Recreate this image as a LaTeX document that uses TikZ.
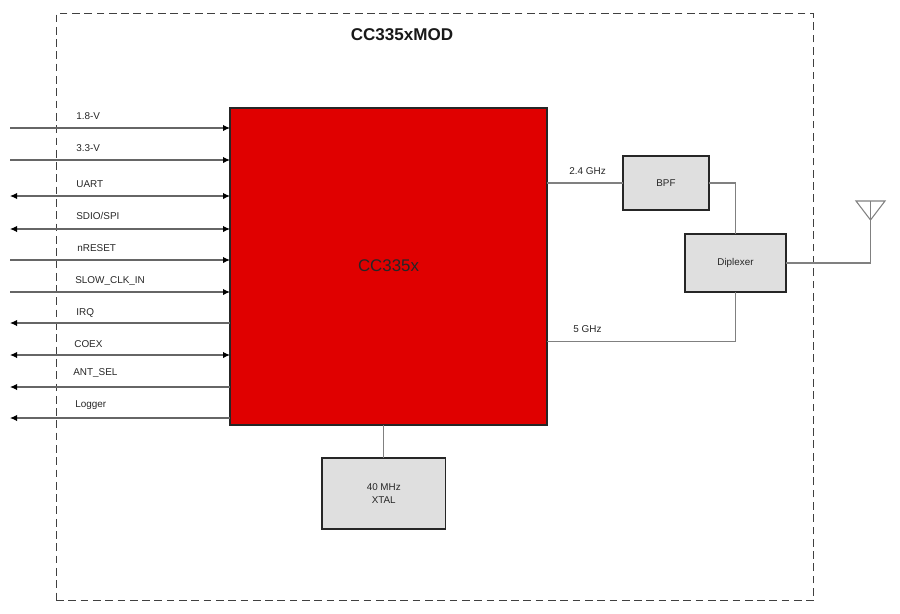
\documentclass[tikz,border=0pt]{standalone}
\usepackage{fontspec}
\setmainfont{Liberation Sans}
\usetikzlibrary{arrows.meta}

\definecolor{tired}{HTML}{E00000}
\definecolor{boxgray}{HTML}{DFDFDF}
\definecolor{linegray}{HTML}{666666}
\definecolor{rfgray}{HTML}{808080}
\definecolor{textgray}{HTML}{262626}

\tikzset{
  blockbox/.style={draw=black!85,line width=0.62pt,fill=boxgray,inner sep=0pt,outer sep=0pt,
    align=center,text=textgray,font=\fontsize{5.6}{7}\selectfont},
  siglabel/.style={anchor=west,inner sep=0pt,text=textgray,font=\fontsize{5.65}{7}\selectfont},
  sigin/.style={draw=linegray,line width=0.6pt,-{Latex[black,length=4pt,width=3.6pt]}},
  sigout/.style={draw=linegray,line width=0.6pt,{Latex[black,length=4pt,width=3.6pt]}-},
  sigboth/.style={draw=linegray,line width=0.6pt,{Latex[black,length=4pt,width=3.6pt]}-{Latex[black,length=4pt,width=3.6pt]}},
  rfline/.style={draw=rfgray,line width=0.6pt}
}

\begin{document}
\begin{tikzpicture}[x=0.02cm,y=-0.02cm]
  \useasboundingbox (0,0) rectangle (900,613);

  % Module outline
  \node[draw=black!75,dash pattern=on 4.4pt off 2.6pt,line width=0.6pt,inner sep=0pt,
    minimum width=15.15cm,minimum height=11.75cm] at(434.75,307.25)(module){};
  \node[inner sep=0pt,text=black!90,font=\fontsize{9.7}{11}\selectfont\bfseries] at(402,35)(title){CC335xMOD};

  % Nodes
  \node[draw=black!85,line width=0.62pt,fill=tired,inner sep=0pt,outer sep=0pt,minimum size=6.34cm,
    text=textgray,font=\fontsize{9.6}{11}\selectfont] at(388.5,266.5)(chip){\raisebox{1pt}{CC335x}};
  \node[blockbox,minimum width=1.72cm,minimum height=1.08cm] at(666,183)(bpf){BPF};
  \node[blockbox,minimum width=2.02cm,minimum height=1.16cm] at(735.5,263)(diplexer){Diplexer};
  \node[blockbox,minimum width=2.47cm,minimum height=1.42cm] at(383.75,493.5)(xtal){40 MHz\\XTAL};

  % Free line ends
  \coordinate (s1) at (10,128);
  \coordinate (s2) at (10,160);
  \coordinate (s3) at (10,196);
  \coordinate (s4) at (10,229);
  \coordinate (s5) at (10,260);
  \coordinate (s6) at (10,292);
  \coordinate (s7) at (10,323);
  \coordinate (s8) at (10,355);
  \coordinate (s9) at (10,387);
  \coordinate (s10) at (10,418);
  \coordinate (rf5) at (547,341.5);
  \coordinate (anttop) at (870.5,201);
  \coordinate (anttip) at (870.5,220);
  \coordinate (antleft) at (856,201);
  \coordinate (antright) at (885,201);

  % Signal lines
  \draw[sigin] (s1) -- (s1 -| chip.west);
  \draw[sigin] (s2) -- (s2 -| chip.west);
  \draw[sigboth] (s3) -- (s3 -| chip.west);
  \draw[sigboth] (s4) -- (s4 -| chip.west);
  \draw[sigin] (s5) -- (s5 -| chip.west);
  \draw[sigin] (s6) -- (s6 -| chip.west);
  \draw[sigout] (s7) -- (s7 -| chip.west);
  \draw[sigboth] (s8) -- (s8 -| chip.west);
  \draw[sigout] (s9) -- (s9 -| chip.west);
  \draw[sigout] (s10) -- (s10 -| chip.west);

  % Signal labels
  \node[siglabel] at(76,116)(l1){1.8-V};
  \node[siglabel] at(76,148.5)(l2){3.3-V};
  \node[siglabel] at(76,184)(l3){UART};
  \node[siglabel] at(76,216)(l4){SDIO/SPI};
  \node[siglabel] at(77,248)(l5){nRESET};
  \node[siglabel] at(75,281)(l6){SLOW\_CLK\_IN};
  \node[siglabel] at(76,312.5)(l7){IRQ};
  \node[siglabel] at(74,344.5)(l8){COEX};
  \node[siglabel] at(73,373)(l9){ANT\_SEL};
  \node[siglabel] at(75,405.5)(l10){Logger};

  % RF path
  \draw[rfline] (chip.east |- bpf.west) -- (bpf.west);
  \draw[rfline] (bpf.east) -| (diplexer.north);
  \draw[rfline] (diplexer.south) |- (rf5);
  \draw[rfline] (diplexer.east) -| (anttop);
  \draw[rfline] (antleft) -- (antright) -- (anttip) -- cycle;
  \draw[rfline] (chip.south -| xtal.north) -- (xtal.north);
  \node[siglabel] at(569,171.5)(rf24label){2.4 GHz};
  \node[siglabel] at(573,329)(rf5label){5 GHz};

\end{tikzpicture}
\end{document}
